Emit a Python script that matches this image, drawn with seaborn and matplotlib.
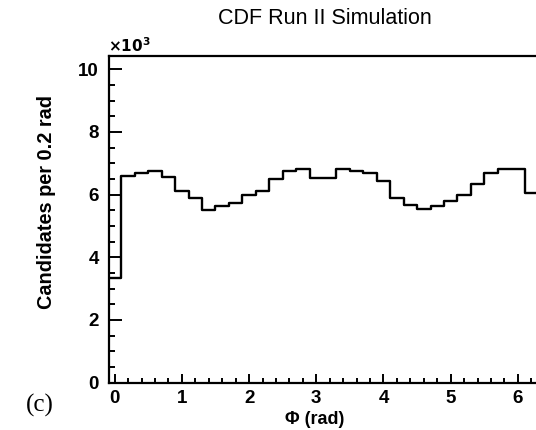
import numpy as np
import pandas as pd
import matplotlib
matplotlib.use("Agg")
import matplotlib.pyplot as plt
import seaborn as sns
from matplotlib.ticker import MultipleLocator

# ---- data (values in units of 10^3 candidates per 0.2 rad) ----
phi_centers = [0.0, 0.2, 0.4, 0.6, 0.8, 1.0, 1.2, 1.4, 1.6, 1.8,
               2.0, 2.2, 2.4, 2.6, 2.8, 3.0, 3.2, 3.4, 3.6, 3.8,
               4.0, 4.2, 4.4, 4.6, 4.8, 5.0, 5.2, 5.4, 5.6, 5.8,
               6.0, 6.2]
counts_k = [3.33, 6.60, 6.69, 6.75, 6.55, 6.10, 5.88, 5.50, 5.62, 5.72,
            5.99, 6.10, 6.49, 6.75, 6.82, 6.54, 6.54, 6.82, 6.75, 6.70,
            6.44, 5.88, 5.67, 5.54, 5.62, 5.78, 6.00, 6.33, 6.70, 6.83,
            6.83, 6.04]
bin_edges = [-0.1, 0.1, 0.3, 0.5, 0.7, 0.9, 1.1, 1.3, 1.5, 1.7, 1.9,
             2.1, 2.3, 2.5, 2.7, 2.9, 3.1, 3.3, 3.5, 3.7, 3.9,
             4.1, 4.3, 4.5, 4.7, 4.9, 5.1, 5.3, 5.5, 5.7, 5.9,
             6.1, 6.3]
x_ticks = [0, 1, 2, 3, 4, 5, 6]
y_ticks = [0, 2, 4, 6, 8, 10]

df = pd.DataFrame({"phi": phi_centers, "n": counts_k})

sns.set_theme(style="white")
plt.rcParams["font.family"] = ["Liberation Sans", "DejaVu Sans"]

W, H = 536, 430
fig = plt.figure(figsize=(W / 100, H / 100), dpi=100)

x0_px, x_axis_left = 108.7, -0.089
px_per_x = 67.2
x_right = 6.5
ax_w = (x_right - x_axis_left) * px_per_x
ax = fig.add_axes([x0_px / W, (H - 382.7) / H, ax_w / W, (382.7 - 56) / H])

sns.histplot(data=df, x="phi", weights="n", bins=bin_edges, element="step",
             fill=False, color="black", linewidth=1.7, ax=ax)

ax.set_xlim(x_axis_left, x_right)
ax.set_ylim(0, 10.42)
ax.set_xticks(x_ticks)
ax.set_yticks(y_ticks)
ax.xaxis.set_minor_locator(MultipleLocator(0.2))
ax.yaxis.set_minor_locator(MultipleLocator(0.5))
ax.set_xlabel("")
ax.set_ylabel("")
for s in ax.spines.values():
    s.set_color("black")
    s.set_linewidth(1.6)
ax.tick_params(axis="both", which="both", direction="in", color="black",
               width=1.4, bottom=True, left=True, top=False, right=False)
ax.tick_params(axis="y", which="major", length=9.5, pad=7)
ax.tick_params(axis="y", which="minor", length=4.5)
ax.tick_params(axis="x", which="major", length=6.8, pad=5)
ax.tick_params(axis="x", which="minor", length=3.6)
for lab in ax.get_xticklabels() + ax.get_yticklabels():
    lab.set_fontweight("bold")
    lab.set_fontsize(13.5)
    lab.set_color("black")

fig.text(325 / W, 1 - 19 / H, "CDF Run II Simulation", ha="center",
         va="center", fontsize=15.5, color="black")
fig.text(47 / W, 1 - 95 / H, "Candidates per 0.2 rad", rotation=90,
         ha="center", va="top", fontsize=14.3, fontweight="bold", color="black")
fig.text(315 / W, 1 - 419 / H, "\u03a6 (rad)", ha="center", va="center",
         fontsize=13, fontweight="bold", color="black")
fig.text(108 / W, 1 - 46 / H, r"$\mathbf{\times 10^{3}}$", ha="left",
         va="center", fontsize=11, color="black")
fig.text(40 / W, 1 - 405 / H, "(c)", ha="center", va="center",
         fontsize=18, family=["Liberation Serif", "DejaVu Serif"], color="black")

fig.savefig("out.png", dpi=100)
